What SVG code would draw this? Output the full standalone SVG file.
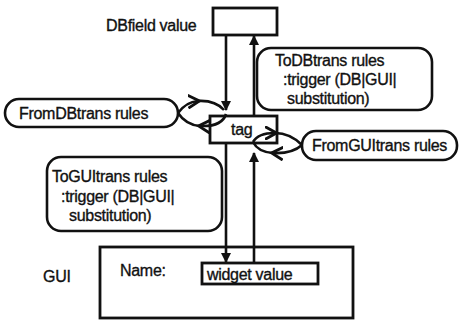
<svg xmlns="http://www.w3.org/2000/svg" width="460" height="320" viewBox="0 0 460 320">
<style>
.box{fill:#fff;stroke:#111;stroke-width:2.8}
.rule{fill:none;stroke:#111;stroke-width:2.6}
.ln{fill:none;stroke:#111;stroke-width:2.6}
.t{font-family:"Liberation Sans",Arial,sans-serif;font-size:16px;fill:#111;stroke:#111;stroke-width:0.35;letter-spacing:-0.3px}
</style>
<defs>
<marker id="ah" viewBox="0 0 10 10" refX="9" refY="5" markerWidth="4" markerHeight="4" orient="auto" markerUnits="strokeWidth">
<path d="M0,0 L10,5 L0,10 Z" fill="#111"/>
</marker>
<marker id="chev" viewBox="0 0 10 10" refX="7" refY="5" markerWidth="5.5" markerHeight="5.5" orient="auto" markerUnits="strokeWidth">
<path d="M0,0.5 L8,5 L0,9.5" fill="none" stroke="#111" stroke-width="2"/>
</marker>
</defs>
<rect width="460" height="320" fill="#fff"/>
<g id="connectors">
<path class="ln" d="M226,35 L226,110" marker-end="url(#ah)"/>
<path class="ln" d="M226,143 L226,262" marker-end="url(#ah)"/>
<path class="ln" d="M254,116 L254,36" marker-end="url(#ah)"/>
<path class="ln" d="M254,263 L254,153" marker-end="url(#ah)"/>
<path class="ln" d="M178,113 Q186,102 198,101 Q215,100 224,110" marker-mid="url(#chev)"/>
<path class="ln" d="M226,114 Q222,127 200,126 Q186,125 178,113" marker-mid="url(#chev)"/>
<path class="ln" d="M253,142 Q258,133 275,133 Q290,133 302,145" marker-mid="url(#chev)"/>
<path class="ln" d="M302,145 Q292,154 273,153 Q258,152 253,142" marker-mid="url(#chev)"/>
</g>
<g id="dbfield">
<rect class="box" x="213" y="8" width="64" height="27"/>
<text class="t" x="106" y="31">DBfield value</text>
</g>
<g id="todbtrans">
<rect class="rule" x="257" y="48" width="175" height="62" rx="14"/>
<text class="t" x="275" y="66">ToDBtrans rules</text>
<text class="t" x="283" y="85">:trigger (DB|GUI|</text>
<text class="t" x="287" y="104">substitution)</text>
</g>
<g id="fromdbtrans">
<rect class="rule" x="5" y="99" width="173" height="28" rx="14"/>
<text class="t" x="19" y="119">FromDBtrans rules</text>
</g>
<g id="tag">
<rect class="box" x="210" y="116" width="67" height="27" style="fill:none"/>
<text class="t" x="231" y="135">tag</text>
</g>
<g id="fromguitrans">
<rect class="rule" x="302" y="131" width="155" height="29" rx="14" style="fill:#fff"/>
<text class="t" x="312" y="151">FromGUItrans rules</text>
</g>
<g id="toguitrans">
<rect class="rule" x="47" y="157" width="175" height="74" rx="14"/>
<text class="t" x="52" y="182">ToGUItrans rules</text>
<text class="t" x="61" y="202">:trigger (DB|GUI|</text>
<text class="t" x="69" y="221">substitution)</text>
</g>
<g id="gui">
<rect class="box" x="100" y="247" width="253" height="71" style="fill:none"/>
<text class="t" x="43" y="282">GUI</text>
<text class="t" x="120" y="276">Name:</text>
</g>
<g id="widget">
<rect class="box" x="202" y="263" width="116" height="21"/>
<text class="t" x="207" y="280">widget value</text>
</g>
</svg>
